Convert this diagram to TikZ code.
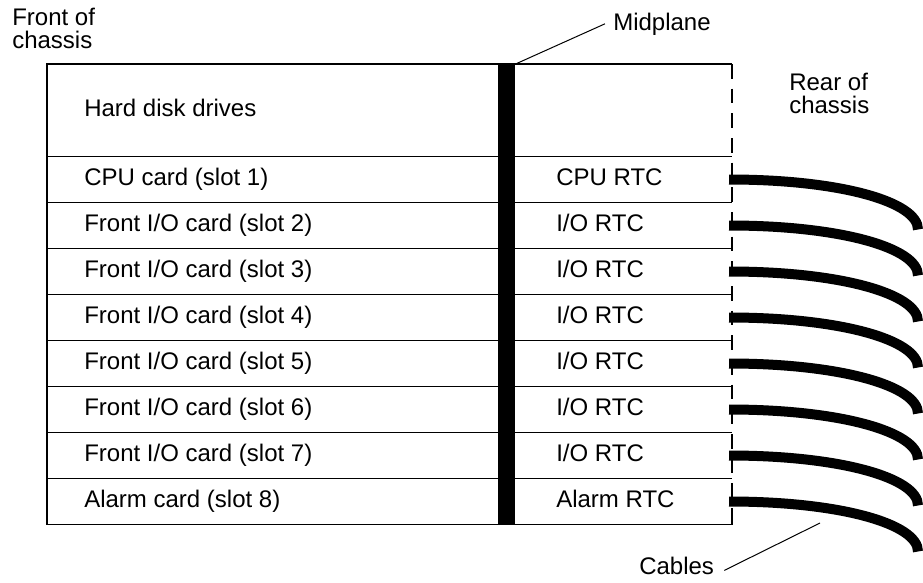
\documentclass[tikz,border=0pt]{standalone}
\usepackage{fontspec}
\setmainfont{Liberation Sans}
\begin{document}
\begin{tikzpicture}[x=0.75pt,y=-0.75pt,
  lbl/.style={inner sep=0pt,anchor=base west,font=\fontsize{18}{17.25}\selectfont},
  twolbl/.style={lbl,align=left},
  boxline/.style={line width=0.9pt},
  dashline/.style={line width=0.9pt,dash pattern=on 11pt off 7.5pt},
  leader/.style={line width=0.75pt},
  cable/.style={line width=7.5pt,line cap=butt},
  bar/.style={fill=black,inner sep=0pt,minimum width=12.75pt,minimum height=345pt,anchor=north west}]
\useasboundingbox (0,0) rectangle (923,582);
% box
\draw[boxline] (732,64) -- (47,64) -- (47,524.5) -- (732,524.5) -- (732,515);
\foreach \y in {156.5,202.5,248.5,294.5,340.5,386.5,432.5,478.5}
  \draw[boxline] (47,\y) -- (732,\y);
\draw[dashline] (732,64) -- (732,515);
% midplane
\node[bar] (mid) at (498,64) {};
% labels
\node[twolbl] (front) at (12,48) {Front of\\chassis};
\node[twolbl] (rear) at (789,113) {Rear of\\chassis};
\node[lbl] (midlbl) at (613,30) {Midplane};
\node[lbl] (cabl) at (639,574) {Cables};
\node[lbl] (l0) at (84,116.7) {Hard disk drives};
\node[lbl] (l1) at (84,185.5) {CPU card (slot 1)};
\node[lbl] (r1) at (556,185.5) {CPU RTC};
\foreach \i in {2,...,7}{
  \node[lbl] (l\i) at (84,{185.5+46*(\i-1)}) {Front I/O card (slot \i)};
  \node[lbl] (r\i) at (556,{185.5+46*(\i-1)}) {I/O RTC};
}
\node[lbl] (l8) at (84,507.5) {Alarm card (slot 8)};
\node[lbl] (r8) at (556,507.5) {Alarm RTC};
% cables
\foreach \i in {1,...,8}{
  \coordinate (cs\i) at (729,{179.5+46*(\i-1)});
  \coordinate (ce\i) at (918,{229.5+46*(\i-1)});
  \draw[cable] (cs\i) .. controls +(110,0) and +(0,-28) .. (ce\i);
}
% leaders
\coordinate (cabpt) at (820,523);
\draw[leader] (mid.north east) -- ([xshift=-6pt]midlbl.west);
\draw[leader] ([shift={(10,5)}]cabl.east) -- (cabpt);
\end{tikzpicture}
\end{document}
